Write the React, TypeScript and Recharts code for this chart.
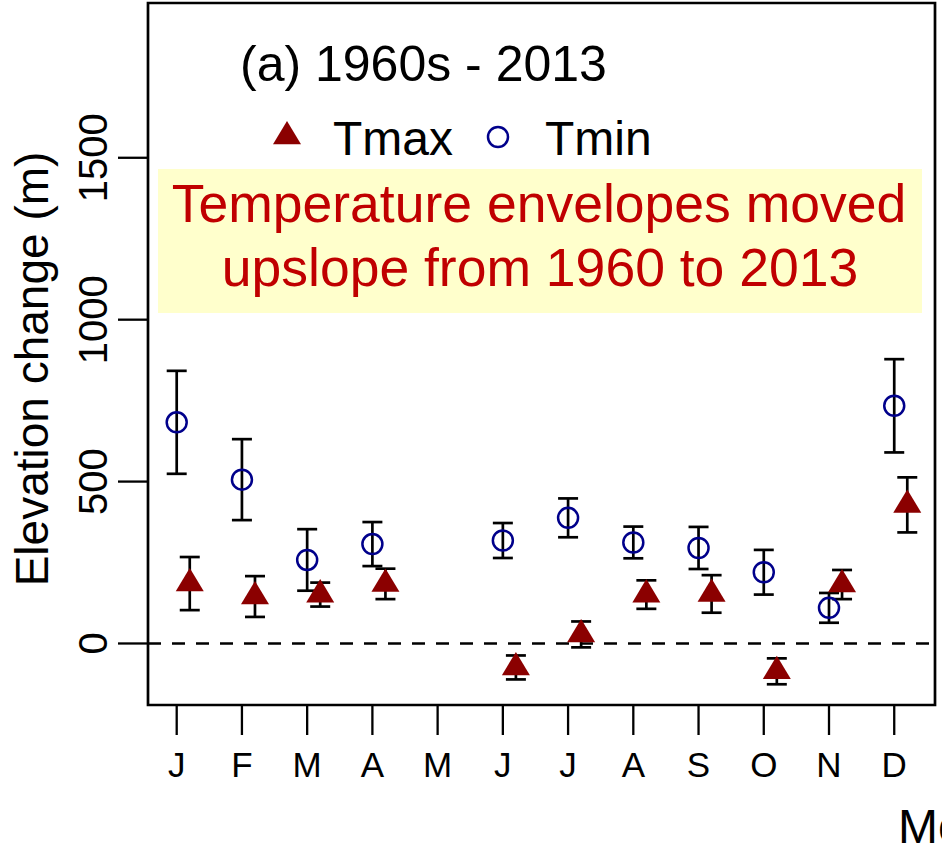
import {
  ComposedChart,
  ErrorBar,
  ReferenceArea,
  ReferenceLine,
  Scatter,
  XAxis,
  YAxis,
} from "recharts";

const months = ["J", "F", "M", "A", "M", "J", "J", "A", "S", "O", "N", "D"];
const monthIndex = [1, 2, 3, 4, 5, 6, 7, 8, 9, 10, 11, 12];

// elevation change (m), mean and half-width of error bar; May has no data
const tminMean = [683, 506, 258, 307, null, 318, 388, 312, 295, 220, 110, 734];
const tminErr = [159, 125, 95, 68, null, 54, 60, 49, 65, 69, 46, 144];
const tmaxMean = [185, 145, 151, 184, null, -74, 28, 151, 153, -86, 182, 428];
const tmaxErr = [82, 63, 37, 47, null, 37, 40, 44, 58, 40, 45, 85];

const yTicks = [0, 500, 1000, 1500];

const X_DOMAIN: [number, number] = [0.56, 12.625];
const Y_DOMAIN: [number, number] = [-190, 1978];
const DODGE = 0.2;

const FONT = "'Liberation Sans', Arial, sans-serif";
const RED = "#8b0000";
const BLUE = "#00008b";

const tminData = monthIndex
  .map((m, i) => ({ x: m, y: tminMean[i], err: tminErr[i] }))
  .filter((d) => d.y !== null);
const tmaxData = monthIndex
  .map((m, i) => ({ x: m + DODGE, y: tmaxMean[i], err: tmaxErr[i] }))
  .filter((d) => d.y !== null);

const Triangle = ({ cx, cy }: any) => (
  <polygon
    points={`${cx},${cy - 15.5} ${cx + 14},${cy + 7.8} ${cx - 14},${cy + 7.8}`}
    fill={RED}
  />
);

const Ring = ({ cx, cy }: any) => (
  <circle cx={cx} cy={cy} r={10} fill="none" stroke={BLUE} strokeWidth={2.5} />
);

const MonthTick = ({ x, y, payload }: any) => (
  <text
    x={x}
    y={y + 40}
    textAnchor="middle"
    fontSize={35}
    fontFamily={FONT}
    fill="#000"
  >
    {months[payload.value - 1]}
  </text>
);

const ElevTick = ({ x, y, payload }: any) => (
  <text
    x={x - 9}
    y={y}
    textAnchor="middle"
    fontSize={40}
    fontFamily={FONT}
    fill="#000"
    transform={`rotate(-90, ${x - 9}, ${y})`}
  >
    {payload.value}
  </text>
);

export default function App() {
  return (
    <div
      style={{
        position: "absolute",
        left: 0,
        top: 0,
        width: 942,
        height: 850,
        overflow: "hidden",
        background: "#fff",
        fontFamily: FONT,
      }}
    >
      <ComposedChart
        width={942}
        height={850}
        margin={{ top: 3, right: 7, bottom: 0, left: 0 }}
      >
        <XAxis
          type="number"
          dataKey="x"
          domain={X_DOMAIN}
          ticks={monthIndex}
          tick={<MonthTick />}
          tickSize={30}
          tickLine={{ stroke: "#000", strokeWidth: 2.3 }}
          axisLine={false}
          height={145}
          allowDataOverflow
        />
        <YAxis
          type="number"
          dataKey="y"
          domain={Y_DOMAIN}
          ticks={yTicks}
          tick={<ElevTick />}
          tickSize={30}
          tickLine={{ stroke: "#000", strokeWidth: 2.3 }}
          axisLine={false}
          width={148}
          allowDataOverflow
        />
        <ReferenceArea
          x1={X_DOMAIN[0]}
          x2={X_DOMAIN[1]}
          y1={Y_DOMAIN[0]}
          y2={Y_DOMAIN[1]}
          fill="none"
          fillOpacity={0}
          stroke="#000"
          strokeWidth={2.7}
          ifOverflow="visible"
        />
        <ReferenceLine
          y={0}
          stroke="#000"
          strokeWidth={2.5}
          strokeDasharray="13 11"
        />
        <Scatter
          data={tminData}
          shape={<Ring />}
          isAnimationActive={false}
        >
          <ErrorBar
            dataKey="err"
            direction="y"
            width={10}
            stroke="#000"
            strokeWidth={2.7}
          />
        </Scatter>
        <Scatter
          data={tmaxData}
          shape={<Triangle />}
          isAnimationActive={false}
        >
          <ErrorBar
            dataKey="err"
            direction="y"
            width={10}
            stroke="#000"
            strokeWidth={2.7}
          />
        </Scatter>
      </ComposedChart>

      <svg
        width={942}
        height={850}
        style={{ position: "absolute", left: 0, top: 0, pointerEvents: "none" }}
        fontFamily={FONT}
      >
        <text
          x={48}
          y={369}
          fontSize={46}
          textAnchor="middle"
          transform="rotate(-90, 48, 369)"
        >
          Elevation change (m)
        </text>
        <text x={898} y={843} fontSize={48}>
          Month
        </text>
        <text x={240} y={81} fontSize={50}>
          (a) 1960s - 2013
        </text>
        <polygon points="287,121 301,144.3 273,144.3" fill={RED} />
        <text x={333} y={155} fontSize={48}>
          Tmax
        </text>
        <circle cx={498} cy={137} r={10} fill="none" stroke={BLUE} strokeWidth={2.5} />
        <text x={545} y={155} fontSize={48}>
          Tmin
        </text>
        <rect x={158} y={169} width={764} height={144} fill="#ffffcc" />
        <text x={539} y={222} fontSize={53.5} fill="#c00000" textAnchor="middle">
          Temperature envelopes moved
        </text>
        <text x={540} y={286} fontSize={53.5} fill="#c00000" textAnchor="middle">
          upslope from 1960 to 2013
        </text>
      </svg>
    </div>
  );
}
